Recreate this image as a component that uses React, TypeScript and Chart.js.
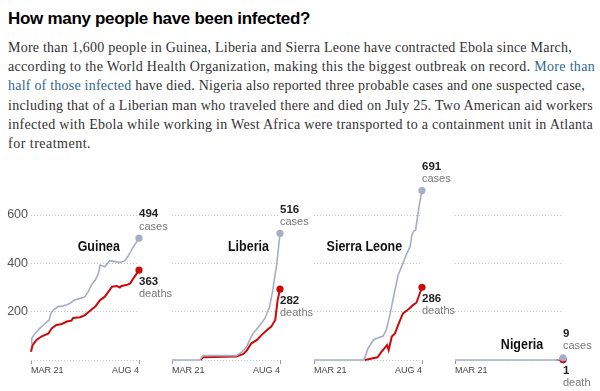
import React, { useEffect, useLayoutEffect, useRef } from 'react';
import { Chart, registerables } from 'chart.js';

Chart.register(...registerables);

// ---------- data ----------
const countries = ['Guinea', 'Liberia', 'Sierra Leone', 'Nigeria'];
const xTickDays = [0, 136]; // days since March 21
const xTickLabels = [
  ['MAR 21', 'AUG 4'],
  ['MAR 21', 'AUG 4'],
  ['MAR 21', 'AUG 4'],
  ['MAR 21', ''],
];
const yTickLabels = ['', '200', '400', '600'];

const caseTotals = ['494', '516', '691', '9'];
const deathTotals = ['363', '282', '286', '1'];
const caseWords = ['cases', 'cases', 'cases', 'cases'];
const deathWords = ['deaths', 'deaths', 'deaths', 'death'];

const guineaCaseDays = [0, 1, 5, 11, 18, 23, 25, 28, 34, 41, 45, 49, 55, 62, 68, 72, 76, 81, 85, 87, 93, 99, 106, 112, 118, 122, 129, 136];
const guineaCases = [69, 90, 110, 131, 152, 166, 193, 207, 221, 224, 229, 235, 248, 255, 262, 283, 310, 331, 359, 393, 386, 411, 407, 403, 410, 428, 469, 504];
const guineaDeathDays = [0, 2, 7, 13, 22, 26, 32, 39, 45, 51, 53, 62, 68, 74, 81, 87, 93, 102, 108, 112, 114, 120, 125, 129, 136];
const guineaDeaths = [34, 62, 83, 97, 110, 131, 145, 149, 159, 163, 174, 177, 186, 203, 221, 248, 262, 303, 306, 300, 306, 310, 317, 338, 372];

const liberiaCaseDays = [0, 35, 39, 81, 88, 94, 98, 102, 111, 117, 123, 127, 132, 136];
const liberiaCases = [0, 0, 18, 18, 34, 55, 83, 110, 145, 172, 221, 290, 400, 524];
const liberiaDeathDays = [36, 39, 81, 90, 94, 100, 107, 113, 119, 125, 130, 133, 136];
const liberiaDeaths = [0, 11, 14, 25, 39, 69, 83, 104, 122, 138, 166, 248, 293];

const sierraCaseDays = [0, 63, 68, 75, 81, 87, 91, 96, 102, 106, 112, 117, 121, 123, 125, 128, 131, 133, 136];
const sierraCases = [0, 0, 48, 83, 92, 99, 124, 193, 290, 352, 400, 441, 469, 511, 531, 538, 607, 649, 701];
const sierraDeathDays = [64, 80, 85, 92, 94, 98, 102, 106, 112, 119, 125, 129, 136];
const sierraDeaths = [0, 11, 34, 62, 41, 97, 110, 145, 193, 210, 228, 237, 301];

const nigeriaCaseDays = [0, 130, 136];
const nigeriaCases = [0, 0, 9];
const nigeriaDeathDays = [128, 136];
const nigeriaDeaths = [0, 1];

const caseDays = [guineaCaseDays, liberiaCaseDays, sierraCaseDays, nigeriaCaseDays];
const caseValues = [guineaCases, liberiaCases, sierraCases, nigeriaCases];
const deathDays = [guineaDeathDays, liberiaDeathDays, sierraDeathDays, nigeriaDeathDays];
const deathValues = [guineaDeaths, liberiaDeaths, sierraDeaths, nigeriaDeaths];

// ---------- layout ----------
const PANEL_X0 = [31, 172, 314, 455];
const PLOT_W = 108;
const CANVAS_W = 184;
const CANVAS_TOP = 150;
const CANVAS_H = 241;
const Y_MAX = 720;
const NAME_DAY = [112, 122, 111, 111];
const NAME_VAL = [467, 467, 467, 62];

const CASE_COLOR = '#a7adc6';
const DEATH_COLOR = '#cc0a0a';

const SANS = '"Liberation Sans", Arial, Helvetica, sans-serif';

type Seg = { t: string; link?: boolean };
const paraLines: Seg[][] = [
  [{ t: 'More than 1,600 people in Guinea, Liberia and Sierra Leone have contracted Ebola since March,' }],
  [{ t: 'according to the World Health Organization, making this the biggest outbreak on record. ' }, { t: 'More than', link: true }],
  [{ t: 'half of those infected', link: true }, { t: ' have died. Nigeria also reported three probable cases and one suspected case,' }],
  [{ t: 'including that of a Liberian man who traveled there and died on July 25. Two American aid workers' }],
  [{ t: 'infected with Ebola while working in West Africa were transported to a containment unit in Atlanta' }],
  [{ t: 'for treatment.' }],
];
const lineTargets = [564, 587, 577, 585, 585, 83];

export default function App() {
  const canvasRefs = useRef<(HTMLCanvasElement | null)[]>([]);
  const lineRefs = useRef<(HTMLSpanElement | null)[]>([]);

  useLayoutEffect(() => {
    document.documentElement.style.overflow = 'hidden';
    document.body.style.margin = '0';
    document.body.style.overflow = 'hidden';
    const fit = () => {
      lineRefs.current.forEach((el, k) => {
        if (!el) return;
        el.style.letterSpacing = '0px';
        const w = el.getBoundingClientRect().width;
        const n = (el.textContent || '').length;
        const ls = (lineTargets[k] - w) / Math.max(1, n);
        el.style.letterSpacing = ls.toFixed(3) + 'px';
      });
    };
    fit();
    if ((document as any).fonts && (document as any).fonts.ready) {
      (document as any).fonts.ready.then(fit);
    }
  }, []);

  useEffect(() => {
    const charts: Chart[] = [];
    for (let i = 0; i < 4; i++) {
      const canvas = canvasRefs.current[i];
      if (!canvas) continue;
      const idx = i;
      const annotate = {
        id: 'annotate' + idx,
        afterDatasetsDraw(chart: any) {
          const ctx: CanvasRenderingContext2D = chart.ctx;
          const xs = chart.scales.x;
          const ys = chart.scales.y;
          ctx.save();
          ctx.font = 'bold 14.5px ' + SANS;
          ctx.fillStyle = '#111';
          ctx.textBaseline = 'middle';
          ctx.textAlign = 'right';
          ctx.translate(xs.getPixelForValue(NAME_DAY[idx]), ys.getPixelForValue(NAME_VAL[idx]));
          ctx.scale(0.86, 1);
          ctx.fillText(countries[idx], 0, 0);
          ctx.restore();

          const cMeta = chart.getDatasetMeta(0);
          const dMeta = chart.getDatasetMeta(1);
          const dp = dMeta.data[dMeta.data.length - 1];
          const cp = cMeta.data[cMeta.data.length - 1];
          ctx.save();
          ctx.textAlign = 'left';
          ctx.textBaseline = 'middle';
          ctx.font = 'bold 11.5px ' + SANS;
          ctx.fillStyle = '#222';
          ctx.fillText(caseTotals[idx], cp.x, cp.y - 24);
          ctx.fillText(deathTotals[idx], dp.x, dp.y + 11.5);
          ctx.font = '11px ' + SANS;
          ctx.fillStyle = '#777';
          ctx.fillText(caseWords[idx], cp.x, cp.y - 11.5);
          ctx.fillText(deathWords[idx], dp.x, dp.y + 23.5);
          ctx.restore();
        },
      };
      const lastRadius = (n: number, r: number) => (c: any) => (c.dataIndex === n - 1 ? r : 0);
      const chart = new Chart(canvas, {
        type: 'line',
        data: {
          datasets: [
            {
              label: 'cases',
              data: caseDays[idx].map((d, k) => ({ x: d, y: caseValues[idx][k] })),
              borderColor: CASE_COLOR,
              backgroundColor: CASE_COLOR,
              pointBackgroundColor: CASE_COLOR,
              pointBorderColor: CASE_COLOR,
              borderWidth: 1.6,
              pointRadius: lastRadius(caseDays[idx].length, 3.6) as any,
              pointBorderWidth: 0,
              tension: 0,
              clip: false,
            },
            {
              label: 'deaths',
              data: deathDays[idx].map((d, k) => ({ x: d, y: deathValues[idx][k] })),
              borderColor: DEATH_COLOR,
              backgroundColor: DEATH_COLOR,
              pointBackgroundColor: DEATH_COLOR,
              pointBorderColor: DEATH_COLOR,
              borderWidth: 2,
              pointRadius: lastRadius(deathDays[idx].length, 3.6) as any,
              pointBorderWidth: 0,
              tension: 0,
              clip: false,
            },
          ],
        },
        options: {
          animation: false,
          responsive: false,
          devicePixelRatio: 1,
          layout: { padding: { top: 36, right: CANVAS_W - 31 - PLOT_W, left: 0, bottom: 0 } },
          plugins: { legend: { display: false }, tooltip: { enabled: false } },
          scales: {
            x: {
              type: 'linear',
              min: xTickDays[0],
              max: xTickDays[1],
              afterBuildTicks: (axis: any) => {
                axis.ticks = xTickDays.map((v) => ({ value: v }));
              },
              afterFit: (axis: any) => {
                axis.height = 31;
              },
              ticks: {
                autoSkip: false,
                maxRotation: 0,
                align: 'inner',
                padding: 1,
                color: '#444',
                font: { family: SANS, size: 9 },
                callback: (v: any) => xTickLabels[idx][xTickDays.indexOf(Number(v))] ?? '',
              },
              grid: { display: true, drawOnChartArea: false, drawTicks: true, tickLength: 4, color: '#999', lineWidth: 1 },
              border: { display: false },
            },
            y: {
              type: 'linear',
              min: 0,
              max: Y_MAX,
              afterFit: (axis: any) => {
                axis.width = 31;
              },
              ticks: {
                display: idx === 0,
                stepSize: 200,
                includeBounds: false,
                padding: 3,
                color: '#555',
                font: { family: SANS, size: 12.5 },
                callback: (v: any) => yTickLabels[Math.round(Number(v) / 200)] ?? '',
              },
              grid: { drawTicks: false, color: '#c4c4c4', lineWidth: 1 },
              border: { display: false, dash: [1, 2] },
            },
          },
        } as any,
        plugins: [annotate],
      });
      charts.push(chart);
    }
    return () => charts.forEach((c) => c.destroy());
  }, []);

  return (
    <div style={{ position: 'relative', width: 600, height: 391, overflow: 'hidden', background: '#fff' }}>
      <div
        style={{
          position: 'absolute',
          left: 8,
          top: 9,
          font: 'bold 17px ' + SANS,
          letterSpacing: '-0.3px',
          lineHeight: '20px',
          color: '#000',
          whiteSpace: 'nowrap',
        }}
      >
        How many people have been infected?
      </div>
      {paraLines.map((segs, k) => (
        <div
          key={k}
          style={{
            position: 'absolute',
            left: 8,
            top: 38 + k * 19.2,
            font: '14px "Liberation Serif", "Times New Roman", serif',
            lineHeight: '19px',
            color: '#333',
            whiteSpace: 'nowrap',
          }}
        >
          <span ref={(el) => { lineRefs.current[k] = el; }} style={{ display: 'inline-block', whiteSpace: 'nowrap' }}>
            {segs.map((s, j) => (
              <span key={j} style={s.link ? { color: '#326891' } : undefined}>{s.t}</span>
            ))}
          </span>
        </div>
      ))}
      {PANEL_X0.map((x0, i) => (
        <canvas
          key={i}
          ref={(el) => { canvasRefs.current[i] = el; }}
          width={CANVAS_W}
          height={CANVAS_H}
          style={{ position: 'absolute', left: x0 - 31, top: CANVAS_TOP, width: CANVAS_W, height: CANVAS_H, display: 'block' }}
        />
      ))}
    </div>
  );
}
